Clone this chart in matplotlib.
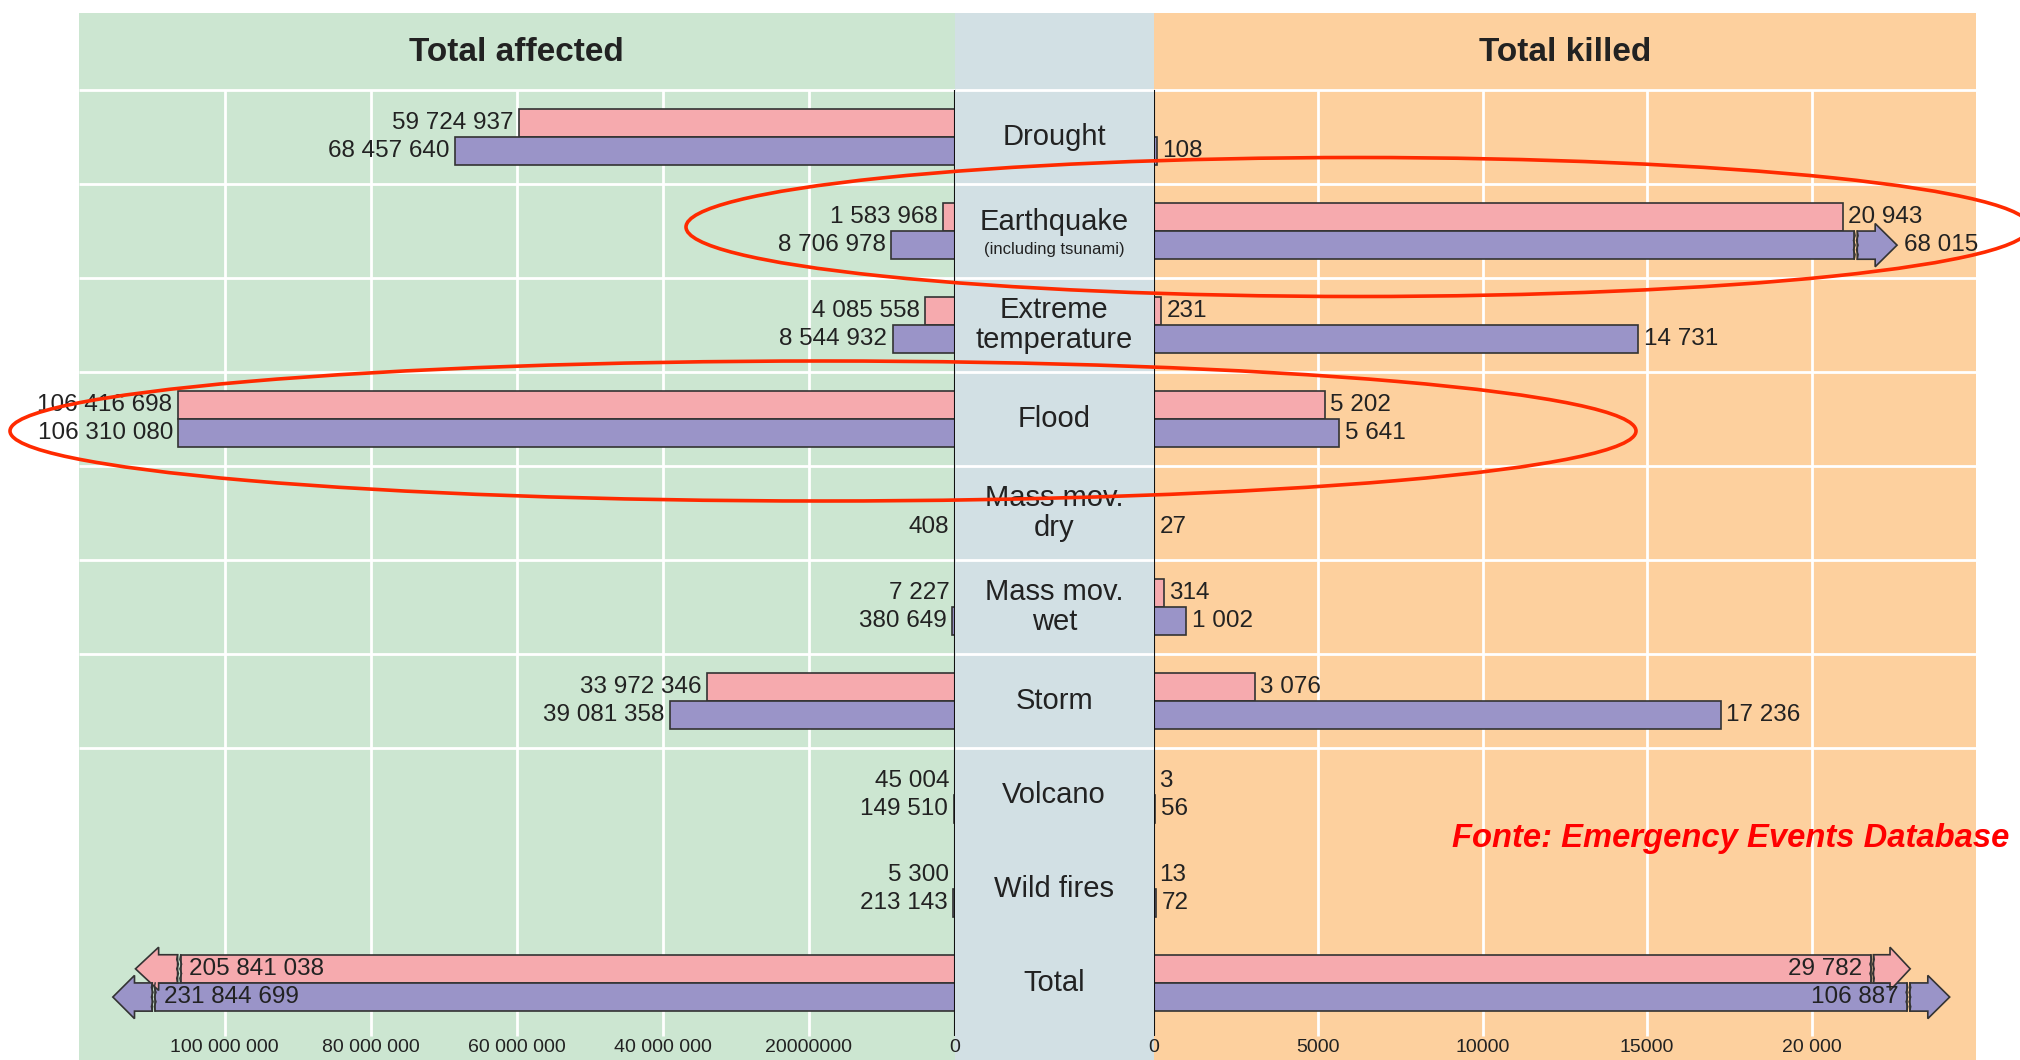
import numpy as np
import matplotlib
matplotlib.use("Agg")
import matplotlib.pyplot as plt
from matplotlib.patches import Ellipse, Polygon

# ── data ────────────────────────────────────────────
categories = ["Drought", "Earthquake", "Extreme\ntemperature", "Flood", "Mass mov.\ndry",
              "Mass mov.\nwet", "Storm", "Volcano", "Wild fires", "Total"]
category_notes = {1: "(including tsunami)"}

affected_pink = [59724937, 1583968, 4085558, 106416698, np.nan, 7227, 33972346, 45004, 5300, 205841038]
affected_purple = [68457640, 8706978, 8544932, 106310080, 408, 380649, 39081358, 149510, 213143, 231844699]
killed_pink = [np.nan, 20943, 231, 5202, np.nan, 314, 3076, 3, 13, 29782]
killed_purple = [108, 68015, 14731, 5641, 27, 1002, 17236, 56, 72, 106887]

affected_ticks = [100e6, 80e6, 60e6, 40e6, 20e6, 0]
affected_ticklabels = ["100 000 000", "80 000 000", "60 000 000", "40 000 000", "20000000", "0"]
killed_ticks = [0, 5000, 10000, 15000, 20000]
killed_ticklabels = ["0", "5000", "10000", "15000", "20 000"]

# bars too long for the panel: (break value, arrow tip)
cuts = {
    ("affected", "pink", 9): (106.0e6, 112.2e6),
    ("affected", "purple", 9): (109.5e6, 115.3e6),
    ("killed", "purple", 1): (21300, 22600),
    ("killed", "pink", 9): (21800, 23000),
    ("killed", "purple", 9): (22900, 24200),
}

# ── style ───────────────────────────────────────────
GREEN = "#cce6d1"
MIDBG = "#d2e0e4"
ORANGE = "#fdd09e"
PINK = "#f6aaae"
PURPLE = "#9a94c8"
EDGE = "#333333"
TXT = "#222222"
plt.rcParams["font.family"] = ["Liberation Sans", "DejaVu Sans"]
VAL_FS = 17.5

W, H = 2020, 1060
fig = plt.figure(figsize=(W / 100, H / 100), dpi=100)


def px_axes(x0, x1, y0, y1):
    return fig.add_axes([x0 / W, 1 - y1 / H, (x1 - x0) / W, (y1 - y0) / H])


ax_mid = px_axes(955, 1153.5, 13, 1060)
ax_l = px_axes(78.5, 955, 13, 1060)
ax_r = px_axes(1153.5, 1976, 13, 1060)

rows = np.arange(len(categories))
YLIM = (9.82, -1.32)
GRID_BOTTOM = 9.56
BAR_H = 0.3


def fmt(v):
    return f"{int(v):,}".replace(",", " ")


def arrow_piece(ax, brk, tip, yc, color):
    gap = (tip - brk) * 0.07
    start = brk + gap
    neck = start + (tip - start) * 0.45
    h, hh = BAR_H / 2, BAR_H / 2 + 0.08
    pts = [(start, yc - h), (neck, yc - h), (neck, yc - hh), (tip, yc),
           (neck, yc + hh), (neck, yc + h), (start, yc + h)]
    ax.add_patch(Polygon(pts, closed=True, facecolor=color, edgecolor=EDGE, lw=1.2, zorder=4))
    zy = np.linspace(yc - h, yc + h, 7)
    zx = np.array([0, 1, -1, 1, -1, 1, 0]) * gap * 0.3
    ax.plot(brk + zx, zy, color=EDGE, lw=1, zorder=4)
    ax.plot(start + zx, zy, color=EDGE, lw=1, zorder=4)


def draw_side(ax, name, pink, purple, sign):
    for series, vals, color, dy in (("pink", pink, PINK, -BAR_H / 2), ("purple", purple, PURPLE, BAR_H / 2)):
        for i, v in enumerate(vals):
            if np.isnan(v):
                continue
            y = rows[i] + dy
            cut = cuts.get((name, series, i))
            w = cut[0] if cut else v
            ax.barh(y, w, height=BAR_H, color=color, edgecolor=EDGE, lw=1.2, zorder=3)
            if cut:
                arrow_piece(ax, cut[0], cut[1], y, color)
                if name == "killed" and series == "purple" and i == 1:
                    ax.annotate(fmt(v), (cut[1], y), xytext=(5, 0), textcoords="offset points",
                                ha="left", va="center", fontsize=VAL_FS, color=TXT, zorder=5)
                else:
                    ax.annotate(fmt(v), (cut[0], y), xytext=(-6 * sign, 0), textcoords="offset points",
                                ha="right" if sign > 0 else "left", va="center", fontsize=VAL_FS,
                                color=TXT, zorder=5)
            else:
                ax.annotate(fmt(v), (v, y), xytext=(4 * sign, 0), textcoords="offset points",
                            ha="left" if sign > 0 else "right", va="center", fontsize=VAL_FS,
                            color=TXT, zorder=5)


for ax, bg in ((ax_l, GREEN), (ax_mid, MIDBG), (ax_r, ORANGE)):
    ax.set_facecolor(bg)
    ax.set_ylim(*YLIM)
    ax.set_yticks([])
    for s in ax.spines.values():
        s.set_visible(False)
    # white row separators (none between the last three rows)
    ax.hlines(np.arange(-0.5, 7, 1.0), 0, 1, transform=ax.get_yaxis_transform(),
              color="white", lw=2, zorder=1)

ax_l.set_xlim(120e6, 0)
ax_r.set_xlim(0, 25000)
ax_mid.set_xlim(0, 1)
ax_mid.set_xticks([])

ax_l.set_xticks(affected_ticks, affected_ticklabels)
ax_r.set_xticks(killed_ticks, killed_ticklabels)
for ax in (ax_l, ax_r):
    ax.tick_params(axis="x", length=0, pad=-15, labelsize=14, labelcolor=TXT)
    grid_x = [t for t in ax.get_xticks() if t != 0]
    ax.vlines(grid_x, -0.5, GRID_BOTTOM, color="white", lw=2, zorder=1)
    ax.vlines(0, -0.5, GRID_BOTTOM, color="#111111", lw=1.5, zorder=6)

draw_side(ax_l, "affected", affected_pink, affected_purple, -1)
draw_side(ax_r, "killed", killed_pink, killed_purple, 1)

ax_l.text(0.5, -0.9, "Total affected", transform=ax_l.get_yaxis_transform(), ha="center",
          va="center", fontsize=24, fontweight="bold", color=TXT)
ax_r.text(0.5, -0.9, "Total killed", transform=ax_r.get_yaxis_transform(), ha="center",
          va="center", fontsize=24, fontweight="bold", color=TXT)

for i, cat in enumerate(categories):
    if i in category_notes:
        ax_mid.text(0.5, rows[i] - 0.1, cat, ha="center", va="center", fontsize=21, color=TXT)
        ax_mid.text(0.5, rows[i] + 0.2, category_notes[i], ha="center", va="center",
                    fontsize=12, color=TXT)
    else:
        ax_mid.text(0.5, rows[i], cat, ha="center", va="center", fontsize=21, color=TXT,
                    linespacing=1.1)

# red highlight ellipses and source note
fig.patches.append(Ellipse((1358 / W, 1 - 227 / H), 1344 / W, 139 / H, transform=fig.transFigure,
                           fill=False, edgecolor="#ff2a00", lw=2.6, zorder=10))
fig.patches.append(Ellipse((823 / W, 1 - 431 / H), 1626 / W, 140 / H, transform=fig.transFigure,
                           fill=False, edgecolor="#ff2a00", lw=2.6, zorder=10))
fig.text(1452 / W, 1 - 838 / H, "Fonte: Emergency Events Database", ha="left", va="center",
         fontsize=23.6, fontweight="bold", fontstyle="italic", color="#ff0000", zorder=11)

fig.savefig("out.png", dpi=100)
